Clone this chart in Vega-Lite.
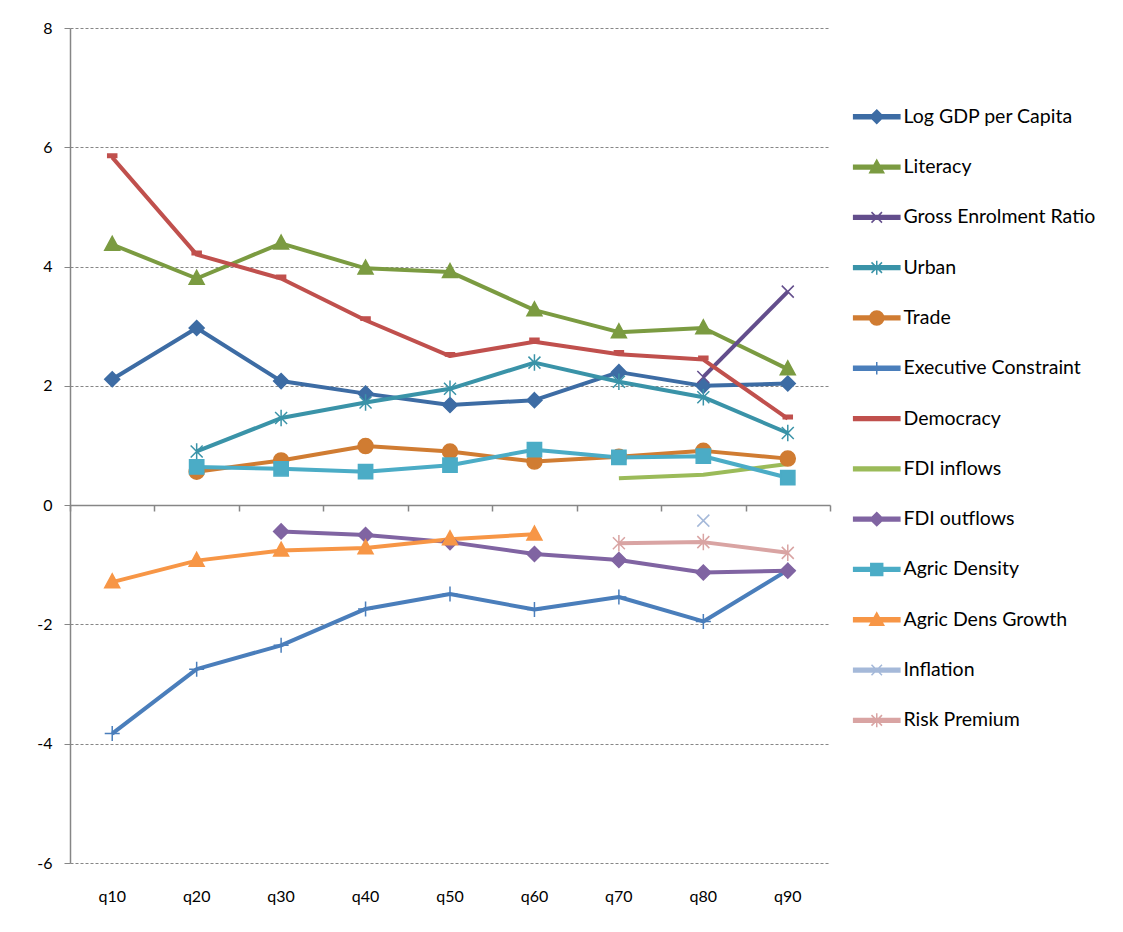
{
  "$schema": "https://vega.github.io/schema/vega-lite/v6.json",
  "description": "Quantile coefficients by determinant",
  "autosize": "none",
  "width": 760,
  "height": 835,
  "padding": {"left": 70, "top": 28, "right": 293, "bottom": 69},
  "background": "white",
  "config": {
    "font": "Lato",
    "view": {"stroke": null}
  },
  "data": {
    "values": [
      {"q": "q10", "series": "Log GDP per Capita", "value": 2.11},
      {"q": "q20", "series": "Log GDP per Capita", "value": 2.97},
      {"q": "q30", "series": "Log GDP per Capita", "value": 2.08},
      {"q": "q40", "series": "Log GDP per Capita", "value": 1.87},
      {"q": "q50", "series": "Log GDP per Capita", "value": 1.68},
      {"q": "q60", "series": "Log GDP per Capita", "value": 1.76},
      {"q": "q70", "series": "Log GDP per Capita", "value": 2.23},
      {"q": "q80", "series": "Log GDP per Capita", "value": 2.0},
      {"q": "q90", "series": "Log GDP per Capita", "value": 2.04},
      {"q": "q10", "series": "Literacy", "value": 4.37},
      {"q": "q20", "series": "Literacy", "value": 3.8},
      {"q": "q30", "series": "Literacy", "value": 4.39},
      {"q": "q40", "series": "Literacy", "value": 3.97},
      {"q": "q50", "series": "Literacy", "value": 3.91},
      {"q": "q60", "series": "Literacy", "value": 3.27},
      {"q": "q70", "series": "Literacy", "value": 2.9},
      {"q": "q80", "series": "Literacy", "value": 2.97},
      {"q": "q90", "series": "Literacy", "value": 2.28},
      {"q": "q80", "series": "Gross Enrolment Ratio", "value": 2.15},
      {"q": "q90", "series": "Gross Enrolment Ratio", "value": 3.58},
      {"q": "q20", "series": "Urban", "value": 0.9},
      {"q": "q30", "series": "Urban", "value": 1.46},
      {"q": "q40", "series": "Urban", "value": 1.72},
      {"q": "q50", "series": "Urban", "value": 1.95},
      {"q": "q60", "series": "Urban", "value": 2.39},
      {"q": "q70", "series": "Urban", "value": 2.07},
      {"q": "q80", "series": "Urban", "value": 1.81},
      {"q": "q90", "series": "Urban", "value": 1.21},
      {"q": "q20", "series": "Trade", "value": 0.56},
      {"q": "q30", "series": "Trade", "value": 0.75},
      {"q": "q40", "series": "Trade", "value": 0.99},
      {"q": "q50", "series": "Trade", "value": 0.9},
      {"q": "q60", "series": "Trade", "value": 0.73},
      {"q": "q70", "series": "Trade", "value": 0.81},
      {"q": "q80", "series": "Trade", "value": 0.91},
      {"q": "q90", "series": "Trade", "value": 0.78},
      {"q": "q10", "series": "Executive Constraint", "value": -3.83},
      {"q": "q20", "series": "Executive Constraint", "value": -2.75},
      {"q": "q30", "series": "Executive Constraint", "value": -2.35},
      {"q": "q40", "series": "Executive Constraint", "value": -1.74},
      {"q": "q50", "series": "Executive Constraint", "value": -1.49},
      {"q": "q60", "series": "Executive Constraint", "value": -1.75},
      {"q": "q70", "series": "Executive Constraint", "value": -1.54},
      {"q": "q80", "series": "Executive Constraint", "value": -1.95},
      {"q": "q90", "series": "Executive Constraint", "value": -1.09},
      {"q": "q10", "series": "Democracy", "value": 5.83},
      {"q": "q20", "series": "Democracy", "value": 4.2},
      {"q": "q30", "series": "Democracy", "value": 3.8},
      {"q": "q40", "series": "Democracy", "value": 3.1},
      {"q": "q50", "series": "Democracy", "value": 2.5},
      {"q": "q60", "series": "Democracy", "value": 2.74},
      {"q": "q70", "series": "Democracy", "value": 2.53},
      {"q": "q80", "series": "Democracy", "value": 2.44},
      {"q": "q90", "series": "Democracy", "value": 1.45},
      {"q": "q70", "series": "FDI inflows", "value": 0.45},
      {"q": "q80", "series": "FDI inflows", "value": 0.51},
      {"q": "q90", "series": "FDI inflows", "value": 0.69},
      {"q": "q30", "series": "FDI outflows", "value": -0.44},
      {"q": "q40", "series": "FDI outflows", "value": -0.5},
      {"q": "q50", "series": "FDI outflows", "value": -0.62},
      {"q": "q60", "series": "FDI outflows", "value": -0.82},
      {"q": "q70", "series": "FDI outflows", "value": -0.92},
      {"q": "q80", "series": "FDI outflows", "value": -1.13},
      {"q": "q90", "series": "FDI outflows", "value": -1.1},
      {"q": "q20", "series": "Agric Density", "value": 0.64},
      {"q": "q30", "series": "Agric Density", "value": 0.61},
      {"q": "q40", "series": "Agric Density", "value": 0.56},
      {"q": "q50", "series": "Agric Density", "value": 0.67},
      {"q": "q60", "series": "Agric Density", "value": 0.93},
      {"q": "q70", "series": "Agric Density", "value": 0.8},
      {"q": "q80", "series": "Agric Density", "value": 0.82},
      {"q": "q90", "series": "Agric Density", "value": 0.46},
      {"q": "q10", "series": "Agric Dens Growth", "value": -1.29},
      {"q": "q20", "series": "Agric Dens Growth", "value": -0.93},
      {"q": "q30", "series": "Agric Dens Growth", "value": -0.76},
      {"q": "q40", "series": "Agric Dens Growth", "value": -0.72},
      {"q": "q50", "series": "Agric Dens Growth", "value": -0.57},
      {"q": "q60", "series": "Agric Dens Growth", "value": -0.49},
      {"q": "q80", "series": "Inflation", "value": -0.26},
      {"q": "q70", "series": "Risk Premium", "value": -0.64},
      {"q": "q80", "series": "Risk Premium", "value": -0.62},
      {"q": "q90", "series": "Risk Premium", "value": -0.8}
    ]
  },
  "resolve": {"axis": {"x": "independent"}},
  "layer": [
    {
      "mark": {"type": "line", "strokeWidth": 4, "strokeJoin": "round"},
      "encoding": {
        "x": {
          "field": "q",
          "type": "ordinal",
          "bandPosition": 0.5,
          "scale": {"type": "band", "paddingInner": 0, "paddingOuter": 0},
          "axis": {
            "orient": "bottom",
            "offset": -358,
            "title": null,
            "labels": false,
            "grid": false,
            "domainColor": "#868686",
            "domainWidth": 1.5,
            "ticks": true,
            "tickBand": "extent",
            "tickSize": 6,
            "tickColor": "#868686",
            "tickWidth": 1.5
          }
        },
        "y": {
          "field": "value",
          "type": "quantitative",
          "scale": {"domain": [-6, 8], "nice": false, "zero": false},
          "axis": {
            "title": null,
            "values": [-6, -4, -2, 0, 2, 4, 6, 8],
            "labelExpr": "'' + datum.value",
            "grid": true,
            "gridColor": "#868686",
            "gridDash": [3, 2],
            "gridWidth": 1,
            "domainColor": "#868686",
            "domainWidth": 1.5,
            "tickColor": "#868686",
            "tickSize": 6,
            "labelFontSize": 16,
            "labelColor": "black",
            "labelPadding": 12
          }
        },
        "color": {
          "field": "series",
          "type": "nominal",
          "scale": {
            "domain": ["Log GDP per Capita", "Literacy", "Gross Enrolment Ratio", "Urban", "Trade", "Executive Constraint", "Democracy", "FDI inflows", "FDI outflows", "Agric Density", "Agric Dens Growth", "Inflation", "Risk Premium"],
            "range": ["#3D6CA4", "#7B9B41", "#634E8C", "#3A93A8", "#D07C32", "#4A7EBB", "#C0504D", "#9BBB59", "#8064A2", "#4BACC6", "#F79646", "#A5B9D9", "#D9A4A3"]
          },
          "legend": {
            "orient": "none",
            "legendX": 797,
            "legendY": 79,
            "title": null,
            "symbolSize": 196,
            "labelFontSize": 19.5,
            "labelColor": "black",
            "labelLimit": 300,
            "labelOffset": 17,
            "rowPadding": 29.3,
            "encode": {
              "symbols": {
                "update": {
                  "shape": {"signal": "'M-3.3,-0.27H3.3V0.27H-3.3Z' + ['M0,-0.95L0.95,0L0,0.95L-0.95,0Z', 'M0,-1L1,0.8L-1,0.8Z', 'M-0.75,-0.75L0.75,0.75M0.75,-0.75L-0.75,0.75', 'M-0.75,-0.75L0.75,0.75M0.75,-0.75L-0.75,0.75M0,-1L0,1', 'M-1,0A1,1 0 1,1 1,0A1,1 0 1,1 -1,0Z', 'M0,-0.9L0,0.9', 'M0,0', 'M0,0', 'M0,-0.95L0.95,0L0,0.95L-0.95,0Z', 'M-0.85,-0.85H0.85V0.85H-0.85Z', 'M0,-1L1,0.8L-1,0.8Z', 'M-0.75,-0.75L0.75,0.75M0.75,-0.75L-0.75,0.75', 'M-0.75,-0.75L0.75,0.75M0.75,-0.75L-0.75,0.75M0,-1L0,1'][indexof(['Log GDP per Capita', 'Literacy', 'Gross Enrolment Ratio', 'Urban', 'Trade', 'Executive Constraint', 'Democracy', 'FDI inflows', 'FDI outflows', 'Agric Density', 'Agric Dens Growth', 'Inflation', 'Risk Premium'], datum.value)]"},
                  "fill": {"signal": "scale('color', datum.value)"},
                  "stroke": {"signal": "scale('color', datum.value)"},
                  "strokeWidth": {"value": 1.5},
                  "size": {"value": 196},
                  "opacity": {"value": 1}
                }
              }
            }
          }
        }
      }
    },
    {
      "mark": {"type": "point", "filled": true, "size": 225, "strokeWidth": 1.5, "opacity": 1},
      "encoding": {
        "x": {
          "field": "q",
          "type": "ordinal",
          "bandPosition": 0.5,
          "axis": {
            "orient": "bottom",
            "title": null,
            "domain": false,
            "ticks": false,
            "grid": false,
            "labelAngle": 0,
            "labelFontSize": 16,
            "labelColor": "black",
            "labelPadding": 25
          }
        },
        "y": {"field": "value", "type": "quantitative"},
        "fill": {
          "field": "series",
          "type": "nominal",
          "legend": null,
          "scale": {
            "domain": ["Risk Premium", "Inflation", "Agric Dens Growth", "Agric Density", "FDI outflows", "FDI inflows", "Democracy", "Executive Constraint", "Trade", "Urban", "Gross Enrolment Ratio", "Literacy", "Log GDP per Capita"],
            "range": ["#D9A4A3", "#A5B9D9", "#F79646", "#4BACC6", "#8064A2", "#9BBB59", "#C0504D", "#4A7EBB", "#D07C32", "#3A93A8", "#634E8C", "#7B9B41", "#3D6CA4"]
          }
        },
        "stroke": {
          "field": "series",
          "type": "nominal",
          "legend": null,
          "scale": {
            "domain": ["Risk Premium", "Inflation", "Agric Dens Growth", "Agric Density", "FDI outflows", "FDI inflows", "Democracy", "Executive Constraint", "Trade", "Urban", "Gross Enrolment Ratio", "Literacy", "Log GDP per Capita"],
            "range": ["#D9A4A3", "#A5B9D9", "#F79646", "#4BACC6", "#8064A2", "#9BBB59", "#C0504D", "#4A7EBB", "#D07C32", "#3A93A8", "#634E8C", "#7B9B41", "#3D6CA4"]
          }
        },
        "shape": {
          "field": "series",
          "type": "nominal",
          "legend": null,
          "scale": {
            "domain": ["Risk Premium", "Inflation", "Agric Dens Growth", "Agric Density", "FDI outflows", "FDI inflows", "Democracy", "Executive Constraint", "Trade", "Urban", "Gross Enrolment Ratio", "Literacy", "Log GDP per Capita"],
            "range": ["M-0.8,-0.8L0.8,0.8M0.8,-0.8L-0.8,0.8M0,-1.1L0,1.1", "M-0.8,-0.8L0.8,0.8M0.8,-0.8L-0.8,0.8", "M0,-1.1L1,0.75L-1,0.75Z", "M-0.95,-0.95H0.95V0.95H-0.95Z", "M0,-1L1,0L0,1L-1,0Z", "M0,0", "M-0.6,-0.45H0.6V0H-0.6Z", "M0,-1L0,1M-1,0L1,0", "M-1,0A1,1 0 1,1 1,0A1,1 0 1,1 -1,0Z", "M-0.8,-0.8L0.8,0.8M0.8,-0.8L-0.8,0.8M0,-1.1L0,1.1", "M-0.8,-0.8L0.8,0.8M0.8,-0.8L-0.8,0.8", "M0,-1.1L1,0.75L-1,0.75Z", "M0,-1L1,0L0,1L-1,0Z"]
          }
        }
      }
    }
  ]
}
